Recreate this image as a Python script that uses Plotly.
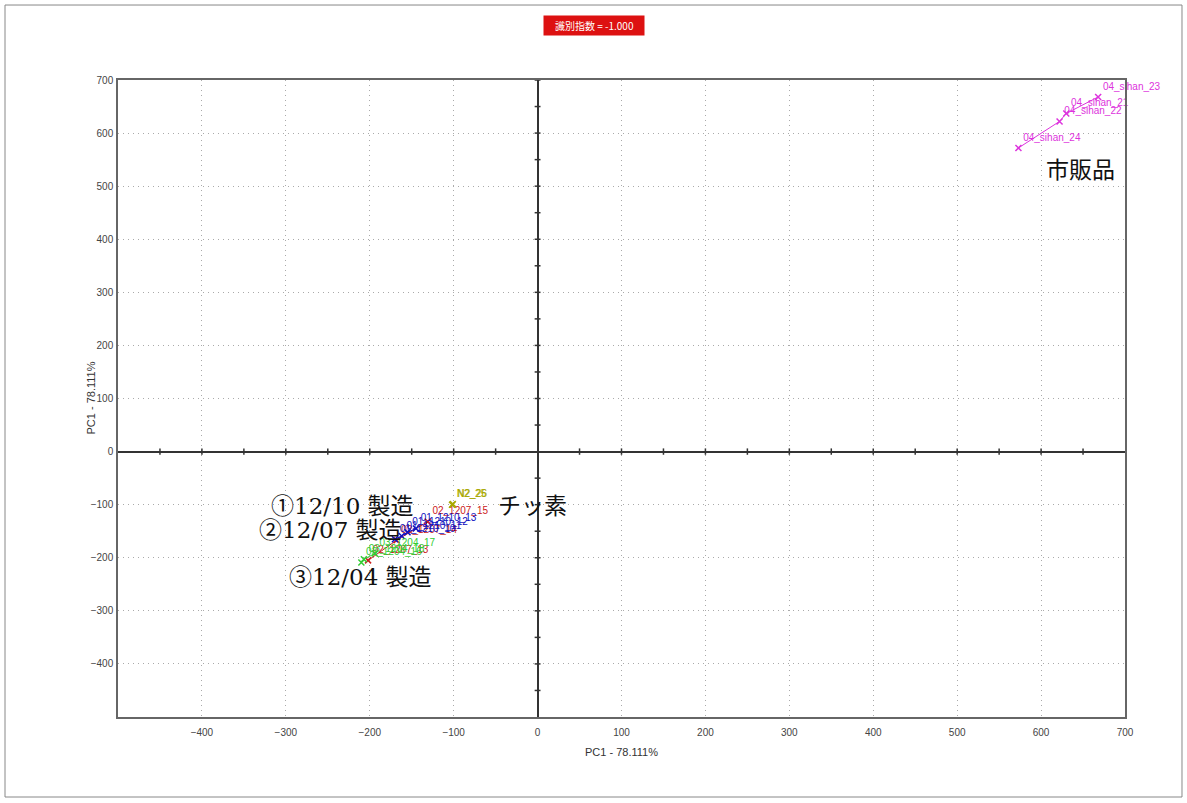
import plotly.graph_objects as go

# ---- data ----
sihan_names = ["04_sihan_24", "04_sihan_22", "04_sihan_21", "04_sihan_23"]
sihan_x = [573, 622, 630, 668]
sihan_y = [572, 622, 637, 668]

blue_names = ["01_1210_10", "01_1210_11", "01_1210_12", "01_1210_13"]
blue_x = [-170, -162, -155, -145]
blue_y = [-165, -159, -152, -145]

red_names = ["02_1207_13", "02_1207_14", "02_1207_15"]
red_x = [-202, -168, -131]
red_y = [-205, -167, -132]

green_names = ["03_1204_16", "03_1204_18", "03_1204_17"]
green_x = [-210, -207, -194]
green_y = [-209, -203, -192]

n2_names = ["N2_25", "N2_26"]
n2_x = [-102, -101]
n2_y = [-100, -99]

x_ticks = [-400, -300, -200, -100, 0, 100, 200, 300, 400, 500, 600, 700]
y_ticks = [-400, -300, -200, -100, 0, 100, 200, 300, 400, 500, 600, 700]

annotations_big = [
    ("①12/10 製造", -320, -103),
    ("②12/07 製造", -334, -147),
    ("③12/04 製造", -299, -237),
    ("チッ素", -49, -103),
    ("市販品", 604, 531),
]

series = [
    (red_names, red_x, red_y, "#cc2020"),
    (blue_names, blue_x, blue_y, "#1010c0"),
    (green_names, green_x, green_y, "#33cc33"),
    (n2_names, n2_x, n2_y, "#a8a800"),
    (sihan_names, sihan_x, sihan_y, "#dd33dd"),
]

fig = go.Figure()
for names, xs, ys, col in series:
    fig.add_trace(go.Scatter(
        x=xs, y=ys, text=names, mode="lines+markers+text",
        line=dict(color=col, width=1),
        marker=dict(symbol="x-thin", size=6, line=dict(color=col, width=1.5), color=col),
        textposition="top right",
        textfont=dict(family="Liberation Sans, Arial", size=10, color=col),
        cliponaxis=(names is not sihan_names), showlegend=False, hoverinfo="text",
    ))

shapes = []
# ticks along central axes
for v in range(-450, 701, 50):
    if v == 0:
        continue
    shapes.append(dict(type="line", xref="x", yref="y", x0=-3.5, x1=3.5, y0=v, y1=v,
                       line=dict(color="#333", width=1.5)))
    if v < 700:
        shapes.append(dict(type="line", xref="x", yref="y", x0=v, x1=v, y0=-6, y1=6,
                           line=dict(color="#333", width=1.5)))
# outer border of the picture
shapes.append(dict(type="rect", xref="paper", yref="paper",
                   x0=-0.1122, x1=1.0566, y0=-0.1256, y1=1.1177,
                   line=dict(color="#888", width=1)))

annots = []
for txt, ax_, ay_ in annotations_big:
    annots.append(dict(text=txt, x=ax_, y=ay_, xref="x", yref="y", xanchor="left",
                       yanchor="middle", showarrow=False,
                       font=dict(family="DejaVu Serif, Noto Sans CJK JP", size=23, color="#111")))
annots.append(dict(text="    識別指数 = -1.000    ", x=0.4727, y=1.0863, xref="paper", yref="paper",
                   xanchor="center", yanchor="middle", showarrow=False, bgcolor="#dd1111",
                   borderpad=2,
                   font=dict(family="Noto Sans CJK JP, Liberation Sans", size=10, color="white")))
# axis titles
title_font = dict(family="Liberation Sans, Arial", size=11, color="#333")
annots.append(dict(text="PC1 - 78.111%", x=0.5, y=-0.055, xref="paper", yref="paper",
                   xanchor="center", yanchor="middle", showarrow=False, font=title_font))
annots.append(dict(text="PC1 - 78.111%", x=-0.0278, y=0.5, xref="paper", yref="paper",
                   xanchor="center", yanchor="middle", showarrow=False, textangle=-90,
                   font=title_font))

axis_common = dict(
    showgrid=True, gridcolor="#aaa", griddash="1px,4px", gridwidth=1,
    showline=True, linecolor="#666", linewidth=1.5, mirror=True,
    zeroline=True, zerolinecolor="#333", zerolinewidth=1.5,
    ticks="", tickfont=dict(family="Liberation Sans, Arial", size=10, color="#444"),
)

fig.update_layout(
    width=1187, height=803,
    margin=dict(l=118, r=62, t=80, b=86),
    paper_bgcolor="white", plot_bgcolor="white",
    xaxis=dict(range=[-500, 700], tickvals=x_ticks, ticklabelstandoff=5, **axis_common),
    yaxis=dict(range=[-500, 700], tickvals=y_ticks, ticklabelstandoff=1, **axis_common),
    shapes=shapes, annotations=annots,
)

fig.write_html("out.html", config={"displayModeBar": False},
               post_script="document.body.style.margin='0';document.body.style.overflow='hidden';")
